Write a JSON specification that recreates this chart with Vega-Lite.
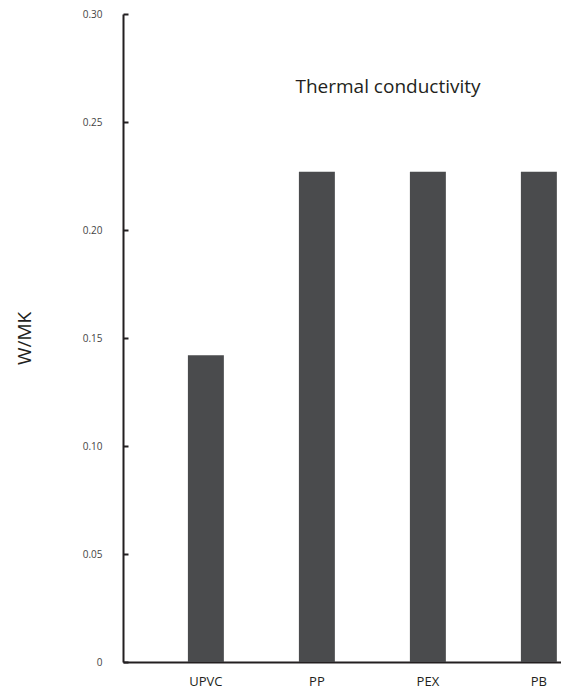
{
  "$schema": "https://vega.github.io/schema/vega-lite/v6.json",
  "autosize": "none",
  "padding": {"left": 123, "top": 14, "right": 0, "bottom": 30},
  "width": 438,
  "height": 648,
  "background": "white",
  "title": {
    "text": "Thermal conductivity",
    "anchor": "middle",
    "dx": 46,
    "dy": 92,
    "font": "Open Sans",
    "fontSize": 19,
    "fontWeight": "normal",
    "color": "#231f20",
    "baseline": "top"
  },
  "data": {
    "values": [
      {"material": "UPVC", "value": 0.142},
      {"material": "PP", "value": 0.227},
      {"material": "PEX", "value": 0.227},
      {"material": "PB", "value": 0.227}
    ]
  },
  "mark": {"type": "bar", "color": "#4a4b4d"},
  "encoding": {
    "x": {
      "field": "material",
      "type": "nominal",
      "sort": null,
      "scale": {"paddingInner": 0.676, "paddingOuter": 0.311, "align": 0.94},
      "axis": {
        "title": null,
        "labelAngle": 0,
        "ticks": false,
        "labelPadding": 13,
        "labelFont": "Open Sans",
        "labelFontSize": 13,
        "labelColor": "#231f20",
        "domainColor": "#231f20",
        "domainWidth": 2,
        "grid": false
      }
    },
    "y": {
      "field": "value",
      "type": "quantitative",
      "scale": {"domain": [0, 0.3], "nice": false},
      "axis": {
        "title": "W/MK",
        "values": [0, 0.05, 0.1, 0.15, 0.2, 0.25, 0.3],
        "format": ".2f",
        "labelExpr": "datum.value === 0 ? '0' : datum.label",
        "tickSize": -5,
        "tickWidth": 2,
        "tickColor": "#231f20",
        "labelPadding": 26,
        "labelFont": "Open Sans",
        "labelFontSize": 10,
        "labelColor": "#444",
        "domainColor": "#231f20",
        "domainWidth": 2,
        "grid": false,
        "titleFont": "Open Sans",
        "titleFontSize": 19,
        "titleFontWeight": "normal",
        "titleColor": "#231f20",
        "titlePadding": 48
      }
    }
  },
  "config": {"view": {"stroke": null}}
}
